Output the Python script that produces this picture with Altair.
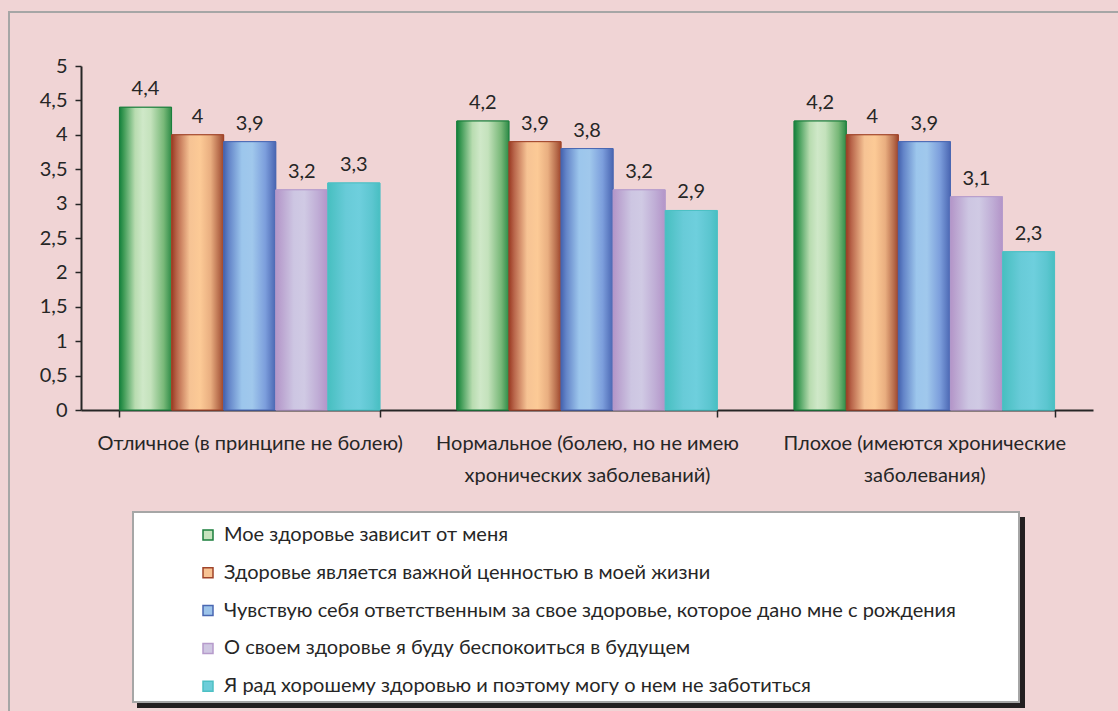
import altair as alt
import pandas as pd

# Self-rated health groups (x categories); "\n" marks the label line break
categories = [
    "Отличное (в принципе не болею)",
    "Нормальное (болею, но не имею\nхронических заболеваний)",
    "Плохое (имеются хронические\nзаболевания)",
]

series = [
    "Мое здоровье зависит от меня",
    "Здоровье является важной ценностью в моей жизни",
    "Чувствую себя ответственным за свое здоровье, которое дано мне с рождения",
    "О своем здоровье я буду беспокоиться в будущем",
    "Я рад хорошему здоровью и поэтому могу о нем не заботиться",
]

# Mean scores per group, one list per statement
s_depends = [4.4, 4.2, 4.2]
s_value = [4.0, 3.9, 4.0]
s_responsible = [3.9, 3.8, 3.9]
s_later = [3.2, 3.2, 3.1]
s_careless = [3.3, 2.9, 2.3]

y_ticks = [0, 0.5, 1, 1.5, 2, 2.5, 3, 3.5, 4, 4.5, 5]

# Styling per statement: flat legend fill, edge colour, cylinder-like gradient
light = ["#c6e3bd", "#f8c393", "#9dc4ea", "#cfc7e2", "#6dcdd9"]
dark = ["#1b7f3d", "#a0442a", "#4a67b2", "#b69bcb", "#4dc0c4"]
gradients = [
    [("#13803c", 0), ("#3d9a55", 0.08), ("#b8dcb0", 0.3), ("#cfe8c8", 0.45),
     ("#c4e2bc", 0.6), ("#78b878", 0.85), ("#2e8b47", 1)],
    [("#9a3a22", 0), ("#b8654a", 0.1), ("#f6c394", 0.35), ("#fcca96", 0.55),
     ("#e9ae80", 0.75), ("#b56a4a", 0.92), ("#a0442a", 1)],
    [("#4462ae", 0), ("#6384c8", 0.1), ("#9cc6ec", 0.35), ("#a0c8ec", 0.55),
     ("#7c9edc", 0.8), ("#4a66b2", 1)],
    [("#b395c8", 0), ("#cdc6e2", 0.35), ("#d0cae4", 0.55), ("#c0aed6", 0.8),
     ("#b394c8", 1)],
    [("#47bfc0", 0), ("#68cbd8", 0.35), ("#6ecfdd", 0.6), ("#5cc6d0", 0.85),
     ("#48bfc2", 1)],
]

FONT = "Lato"
TXT = "#262626"
BG = "#f0d4d5"
FS = 20

rows = []
for name, vals in zip(series, [s_depends, s_value, s_responsible, s_later, s_careless]):
    for cat, v in zip(categories, vals):
        rows.append({
            "category": cat,
            "series": name,
            "value": v,
            "label": f"{v:g}".replace(".", ","),
        })
df = pd.DataFrame(rows)

x_enc = alt.X(
    "category:N",
    sort=categories,
    scale=alt.Scale(domain=categories, paddingInner=0.228, paddingOuter=0.114),
    axis=alt.Axis(
        title=None,
        labelAngle=0,
        labelExpr="datum.value ? split(datum.value, '\\n') : ''",
        labelLimit=500,
        labelOverlap=False,
        labelFont=FONT,
        labelFontSize=FS,
        labelColor=TXT,
        labelLineHeight=32,
        labelPadding=16,
        tickBand="extent",
        tickSize=7,
        tickWidth=1.5,
        tickColor=TXT,
        domainColor=TXT,
        domainWidth=2,
    ),
)
xo_enc = alt.XOffset(
    "series:N",
    sort=series,
    scale=alt.Scale(domain=series, paddingInner=0, paddingOuter=0),
)
y_enc = alt.Y(
    "value:Q",
    scale=alt.Scale(domain=[0, 5], nice=False),
    axis=alt.Axis(
        title=None,
        values=y_ticks,
        labelExpr="replace(format(datum.value, '.1~f'), '.', ',')",
        labelFont=FONT,
        labelFontSize=FS,
        labelColor=TXT,
        labelPadding=8,
        tickSize=6,
        tickWidth=1.5,
        tickColor=TXT,
        domainColor=TXT,
        domainWidth=2,
        grid=False,
    ),
)

legend = alt.Legend(
    title=None,
    orient="none",
    legendX=117,
    legendY=459,
    symbolType="square",
    symbolSize=100,
    symbolStrokeWidth=1.5,
    labelFont=FONT,
    labelFontSize=FS,
    labelColor=TXT,
    labelOffset=6,
    labelLimit=1000,
    rowPadding=17.8,
    padding=0,
)

deco = alt.Data(values=[{"k": 1}])

# Outer chart frame
frame = alt.Chart(deco).mark_rect(
    fill="transparent", stroke="#a6a6a6", strokeWidth=2
).encode(
    x=alt.value(-72), x2=alt.value(1060), y=alt.value(-54), y2=alt.value(680)
)

# Legend panel with its drop shadow
shadow = alt.Chart(deco).mark_rect(fill="#231f20").encode(
    x=alt.value(56), x2=alt.value(944), y=alt.value(451), y2=alt.value(642)
)
panel = alt.Chart(deco).mark_rect(
    fill="white", stroke="#a6a6a6", strokeWidth=2
).encode(
    x=alt.value(52), x2=alt.value(938), y=alt.value(446), y2=alt.value(636)
)

# Flat bars carry the legend; the gradient bars are drawn over them
base = alt.Chart(df).mark_bar(strokeWidth=1).encode(
    x=x_enc,
    xOffset=xo_enc,
    y=y_enc,
    fill=alt.Fill("series:N", scale=alt.Scale(domain=series, range=light), legend=legend),
    stroke=alt.Stroke("series:N", scale=alt.Scale(domain=series, range=dark), legend=legend),
)

grad_layers = []
for name, stops, edge in zip(series, gradients, dark):
    g = alt.LinearGradient(
        gradient="linear",
        x1=0, x2=1, y1=0, y2=0,
        stops=[alt.GradientStop(color=c, offset=o) for c, o in stops],
    )
    grad_layers.append(
        alt.Chart(df)
        .transform_filter(alt.datum.series == name)
        .mark_bar(fill=g, stroke=edge, strokeWidth=1)
        .encode(x=x_enc, xOffset=xo_enc, y=y_enc)
    )

labels = alt.Chart(df).mark_text(
    font=FONT, fontSize=FS, color=TXT, baseline="alphabetic", dy=-12
).encode(x=x_enc, xOffset=xo_enc, y=y_enc, text="label:N")

chart = alt.layer(frame, shadow, panel, base, *grad_layers, labels).properties(
    width=1012,
    height=344,
    padding={"left": 81, "top": 66, "right": 25, "bottom": 301},
    autosize=alt.AutoSizeParams(type="none"),
    background=BG,
).configure_view(strokeOpacity=0)

chart.save("out.html", embed_options={"renderer": "svg", "actions": False})
